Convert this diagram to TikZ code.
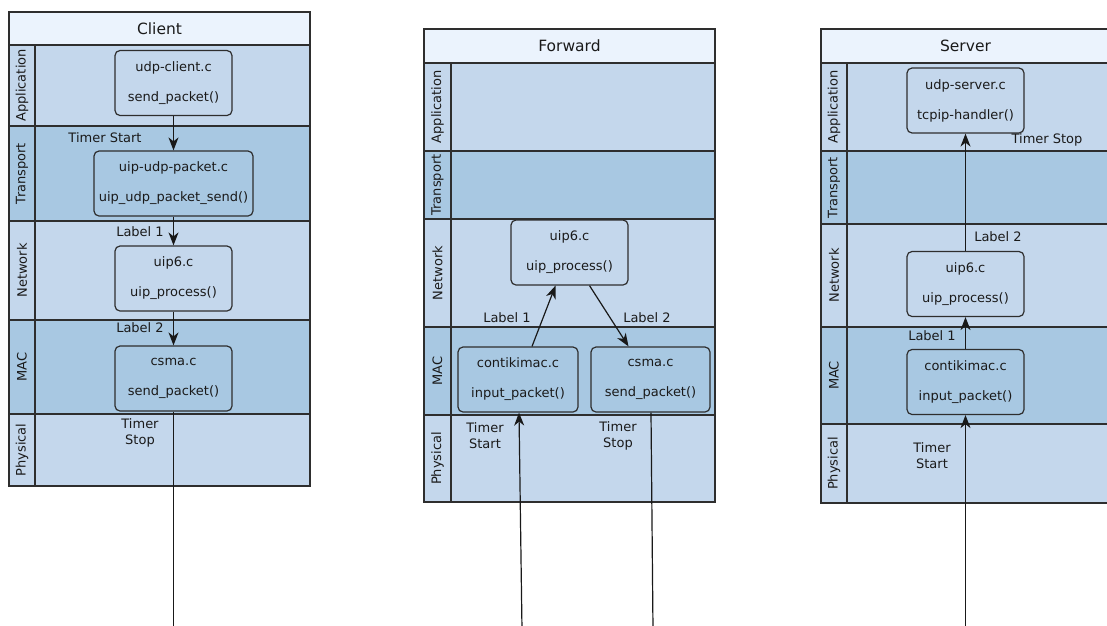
\documentclass[tikz,border=0pt]{standalone}
\usepackage{fontspec}
\setmainfont{DejaVu Sans}
\usetikzlibrary{arrows.meta,calc}

\definecolor{lanelight}{HTML}{C4D7EC}
\definecolor{lanedark}{HTML}{A8C8E2}
\definecolor{titlefill}{HTML}{EBF3FD}
\definecolor{edgec}{HTML}{2E2E2E}
\definecolor{inkc}{HTML}{1A1A1A}

% one swimlane row: x0, x of label column edge, x1, y top, y bottom, fill, label, node name
\newcommand\panellane[8]{%
  \path[fill=#6, draw=edgec, line width=1.2pt] (#1,#4) rectangle (#3,#5);
  \draw[edgec, line width=1.2pt] (#2,#4) -- (#2,#5);
  \node[lanelabel] (#8) at ({(#1+#2)/2},{(#4+#5)/2}) {#7};}

% panel heading: x0, x1, y top, y bottom, text, node name, x of text centre
\newcommand\paneltitle[7]{%
  \path[fill=titlefill, draw=edgec, line width=1.2pt] (#1,#3) rectangle (#2,#4);
  \node[titletext] (#6) at (#7,{(#3+#4)/2}) {#5};}

\begin{document}
\begin{tikzpicture}[x=1pt,y=-1pt,
  lanelabel/.style={rotate=90, font=\fontsize{13}{15}\selectfont, text=inkc, inner sep=0pt},
  titletext/.style={font=\fontsize{15.5}{18}\selectfont, text=inkc, inner sep=0pt},
  fnbox/.style={draw=edgec, line width=1.2pt, rounded corners=5pt, align=center,
    font=\fontsize{13}{30}\selectfont, text=inkc, minimum width=117pt,
    minimum height=65pt, inner sep=0pt},
  note/.style={font=\fontsize{13}{16}\selectfont, align=center, text=inkc, inner sep=0pt},
  arr/.style={line width=1.2pt, draw=black!90, -{Stealth[length=13pt,width=10pt,inset=4pt]}},
  wire/.style={line width=1.2pt, draw=black!90}]

\useasboundingbox (0,0) rectangle (1107,625);
\clip (0,0) rectangle (1107,625);
\fill[white] (0,0) rectangle (1107,625);

% ---------------- Client ----------------
\paneltitle{9}{310}{12}{45}{Client}{ctitle}{159.5}
\panellane{9}{35}{310}{45}{126}{lanelight}{Application}{capl}
\panellane{9}{35}{310}{126}{221}{lanedark}{Transport}{ctrl}
\panellane{9}{35}{310}{221}{320}{lanelight}{Network}{cnel}
\panellane{9}{35}{310}{320}{414}{lanedark}{MAC}{cmal}
\panellane{9}{35}{310}{414}{486}{lanelight}{Physical}{cphl}

\node[fnbox] (capp) at (173.5,83) {udp-client.c\\send\_packet()};
\node[fnbox, minimum width=159pt] (ctr) at (173.5,183.5) {uip-udp-packet.c\\uip\_udp\_packet\_send()};
\node[fnbox] (cnet) at (173.5,278.5) {uip6.c\\uip\_process()};
\node[fnbox] (cmac) at (173.5,378.5) {csma.c\\send\_packet()};
\coordinate (cend) at (173.5,630);

\draw[arr] (capp) -- (ctr);
\draw[arr] (ctr) -- (cnet);
\draw[arr] (cnet) -- (cmac);
\draw[wire] (cmac) -- (cend);

\node[note] (cts) at (105,138) {Timer Start};
\node[note] (cl1) at (140,232) {Label 1};
\node[note] (cl2) at (140,328) {Label 2};
\node[note] (ctp) at (140,433) {Timer\\Stop};

% ---------------- Forward ----------------
\paneltitle{424}{715}{29}{63}{Forward}{ftitle}{569.5}
\panellane{424}{451}{715}{63}{151}{lanelight}{Application}{fapl}
\panellane{424}{451}{715}{151}{219}{lanedark}{Transport}{ftrl}
\panellane{424}{451}{715}{219}{327}{lanelight}{Network}{fnel}
\panellane{424}{451}{715}{327}{415}{lanedark}{MAC}{fmal}
\panellane{424}{451}{715}{415}{502}{lanelight}{Physical}{fphl}

\node[fnbox] (fnet) at (569.5,252.5) {uip6.c\\uip\_process()};
\node[fnbox, minimum width=120pt] (fcon) at (518,379.5) {contikimac.c\\input\_packet()};
\node[fnbox, minimum width=119pt] (fcsma) at (650.5,379.5) {csma.c\\send\_packet()};
\coordinate (fin) at (522,630);
\coordinate (fout) at (653,630);

\draw[arr] ([xshift=14pt]fcon.north) -- ([xshift=-14pt]fnet.south);
\draw[arr] ([xshift=20pt]fnet.south) -- ([xshift=-22pt]fcsma.north);
\draw[arr] (fin) -- ([xshift=1pt]fcon.south);
\draw[wire] ([xshift=0.5pt]fcsma.south) -- (fout);

\node[note] (fl1) at (507,318) {Label 1};
\node[note] (fl2) at (647,318) {Label 2};
\node[note] (fts) at (485,435.5) {Timer\\Start};
\node[note] (ftp) at (618,435.5) {Timer\\Stop};

% ---------------- Server ----------------
\paneltitle{821}{1130}{29}{63}{Server}{stitle}{965.5}
\panellane{821}{847}{1130}{63}{151}{lanelight}{Application}{sapl}
\panellane{821}{847}{1130}{151}{224}{lanedark}{Transport}{strl}
\panellane{821}{847}{1130}{224}{327}{lanelight}{Network}{snel}
\panellane{821}{847}{1130}{327}{424}{lanedark}{MAC}{smal}
\panellane{821}{847}{1130}{424}{503}{lanelight}{Physical}{sphl}

\node[fnbox] (sapp) at (965.5,100.5) {udp-server.c\\tcpip-handler()};
\node[fnbox] (snet) at (965.5,284) {uip6.c\\uip\_process()};
\node[fnbox] (scon) at (965.5,382) {contikimac.c\\input\_packet()};
\coordinate (sin) at (965.5,630);

\draw[arr] (snet) -- (sapp);
\draw[arr] (scon) -- (snet);
\draw[arr] (sin) -- (scon.south);

\node[note] (stp) at (1047,140) {Timer Stop};
\node[note] (sl2) at (998,237) {Label 2};
\node[note] (sl1) at (932,336) {Label 1};
\node[note] (sts) at (932,455.5) {Timer\\Start};

\end{tikzpicture}
\end{document}
